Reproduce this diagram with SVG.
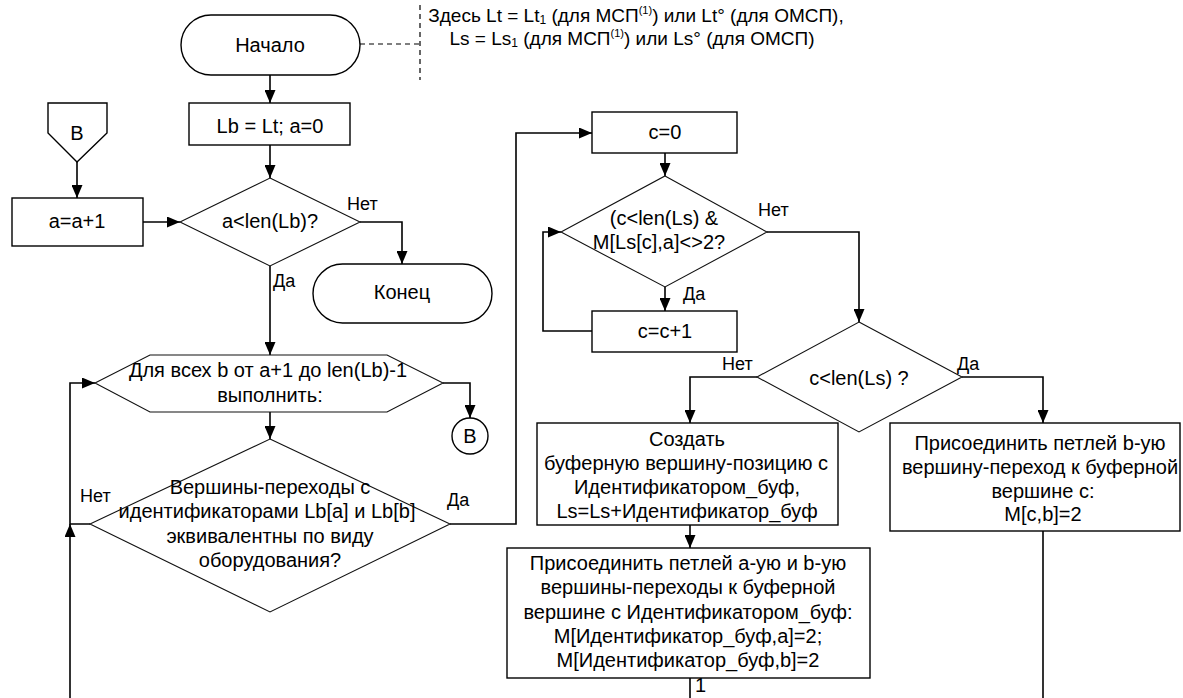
<svg xmlns="http://www.w3.org/2000/svg" width="1183" height="698" viewBox="0 0 1183 698">
  <style>
    .shape { fill: #fff; stroke: #000; stroke-width: 1.4; }
    .thin { fill: #fff; stroke: #111; stroke-width: 1.1; }
    .conn { fill: none; stroke: #000; stroke-width: 1.6; }
    .dash { fill: none; stroke: #000; stroke-width: 1.2; stroke-dasharray: 5 4; }
    text { font-family: "Liberation Sans", Arial, sans-serif; font-size: 20px; fill: #000; }
    .c { text-anchor: middle; }
    .lbl { font-size: 18px; }
    .note { font-size: 19px; }
  </style>
  <defs>
    <marker id="arr" viewBox="0 0 13 11" refX="13" refY="5.5" markerWidth="13" markerHeight="11" markerUnits="userSpaceOnUse" orient="auto">
      <path d="M0,0 L13,5.5 L0,11 z" fill="#000"/>
    </marker>
  </defs>

  <!-- connectors -->
  <g id="connectors">
    <path class="conn" d="M270,75 V103" marker-end="url(#arr)"/>
    <path class="conn" d="M270,145 V178" marker-end="url(#arr)"/>
    <path class="conn" d="M77,162 V198" marker-end="url(#arr)"/>
    <path class="conn" d="M143,222 H180" marker-end="url(#arr)"/>
    <path class="conn" d="M360,222 H402 V264" marker-end="url(#arr)"/>
    <path class="conn" d="M270,266 V355" marker-end="url(#arr)"/>
    <path class="conn" d="M443,383 H470 V418" marker-end="url(#arr)"/>
    <path class="conn" d="M270,412 V439" marker-end="url(#arr)"/>
    <path class="conn" d="M90,524 H70 V383 H95" marker-end="url(#arr)"/>
    <path class="conn" d="M70,698 V524" marker-end="url(#arr)"/>
    <path class="conn" d="M450,524 H516 V133 H592" marker-end="url(#arr)"/>
    <path class="conn" d="M665,153 V176" marker-end="url(#arr)"/>
    <path class="conn" d="M665,287 V311" marker-end="url(#arr)"/>
    <path class="conn" d="M592,331 H543 V232 H561" marker-end="url(#arr)"/>
    <path class="conn" d="M767,232 H859 V322" marker-end="url(#arr)"/>
    <path class="conn" d="M757,377 H690 V423" marker-end="url(#arr)"/>
    <path class="conn" d="M962,377 H1043 V423" marker-end="url(#arr)"/>
    <path class="conn" d="M690,525 V548" marker-end="url(#arr)"/>
    <path class="conn" d="M690,678 V698"/>
    <path class="conn" d="M1043,531 V698"/>
    <path class="dash" d="M360,44 H420"/>
    <path class="dash" d="M420,5 V80"/>
    <text class="lbl" x="347" y="210">Нет</text>
    <text class="lbl" x="273" y="287">Да</text>
    <text class="lbl" x="80" y="502">Нет</text>
    <text class="lbl" x="447" y="506">Да</text>
    <text class="lbl" x="758" y="216">Нет</text>
    <text class="lbl" x="683" y="300">Да</text>
    <text class="lbl" x="722" y="370">Нет</text>
    <text class="lbl" x="957" y="370">Да</text>
    <text x="695" y="692" font-size="7">1</text>
  </g>

  <!-- note attached to the start node -->
  <g id="note">
    <text class="c note" x="636" y="22">Здесь Lt = Lt<tspan font-size="12" dy="2">1</tspan><tspan dy="-2"> (для МСП</tspan><tspan font-size="11" dy="-8">(1)</tspan><tspan dy="8">) или Lt° (для ОМСП),</tspan></text>
    <text class="c note" x="632" y="45">Ls = Ls<tspan font-size="12" dy="2">1</tspan><tspan dy="-2"> (для МСП</tspan><tspan font-size="11" dy="-8">(1)</tspan><tspan dy="8">) или Ls° (для ОМСП)</tspan></text>
  </g>

  <g id="start">
    <rect class="shape" x="181" y="15" width="179" height="60" rx="30"/>
    <text class="c" x="270" y="52">Начало</text>
  </g>

  <g id="init">
    <rect class="shape" x="189" y="103" width="161" height="42"/>
    <text class="c" x="270" y="133">Lb = Lt; a=0</text>
  </g>

  <g id="offpage-b">
    <polygon class="shape" points="48,103 107,103 107,133 77,162 48,133"/>
    <text class="c" x="77" y="140">В</text>
  </g>

  <g id="inc-a">
    <rect class="shape" x="12" y="198" width="131" height="48"/>
    <text class="c" x="77" y="228">a=a+1</text>
  </g>

  <g id="check-a">
    <polygon class="thin" points="270,178 360,222 270,266 180,222"/>
    <text class="c" x="270" y="228">a&lt;len(Lb)?</text>
  </g>

  <g id="end">
    <rect class="shape" x="313" y="264" width="179" height="59" rx="29.5"/>
    <text class="c" x="402" y="299">Конец</text>
  </g>

  <g id="loop-b">
    <polygon class="thin" points="95,383 150,355 387,355 443,383 387,412 150,412"/>
    <text class="c" x="268" y="377">Для всех b от a+1 до len(Lb)-1</text>
    <text class="c" x="270" y="402">выполнить:</text>
  </g>

  <g id="connector-b">
    <circle class="shape" cx="470" cy="436" r="18"/>
    <text class="c" x="470" y="443">В</text>
  </g>

  <g id="check-equiv">
    <polygon class="thin" points="270,439 450,524 270,612 90,524"/>
    <text class="c" x="270" y="494">Вершины-переходы с</text>
    <text class="c" x="267" y="518">идентификаторами Lb[a] и Lb[b]</text>
    <text class="c" x="270" y="543">эквивалентны по виду</text>
    <text class="c" x="270" y="567">оборудования?</text>
  </g>

  <g id="init-c">
    <rect class="shape" x="592" y="112" width="145" height="41"/>
    <text class="c" x="665" y="139">c=0</text>
  </g>

  <g id="check-c">
    <polygon class="thin" points="665,176 767,232 665,287 561,232"/>
    <text class="c" x="664" y="225">(c&lt;len(Ls) &amp;</text>
    <text class="c" x="659" y="249">M[Ls[c],a]&lt;&gt;2?</text>
  </g>

  <g id="inc-c">
    <rect class="shape" x="592" y="311" width="145" height="41"/>
    <text class="c" x="665" y="338">c=c+1</text>
  </g>

  <g id="check-found">
    <polygon class="thin" points="859,322 962,377 859,432 757,377"/>
    <text class="c" x="859" y="385">c&lt;len(Ls) ?</text>
  </g>

  <g id="create-buffer">
    <rect class="shape" x="537" y="423" width="301" height="102"/>
    <text class="c" x="687" y="446">Создать</text>
    <text class="c" x="686" y="470">буферную вершину-позицию с</text>
    <text class="c" x="687" y="494">Идентификатором_буф,</text>
    <text class="c" x="687" y="518">Ls=Ls+Идентификатор_буф</text>
  </g>

  <g id="attach-ab">
    <rect class="shape" x="507" y="548" width="363" height="130"/>
    <text class="c" x="688" y="570">Присоединить петлей a-ую и b-ую</text>
    <text class="c" x="688" y="594">вершины-переходы к буферной</text>
    <text class="c" x="688" y="619">вершине с Идентификатором_буф:</text>
    <text class="c" x="688" y="643">M[Идентификатор_буф,a]=2;</text>
    <text class="c" x="688" y="667">M[Идентификатор_буф,b]=2</text>
  </g>

  <g id="attach-b">
    <rect class="shape" x="890" y="423" width="290" height="108"/>
    <text class="c" x="1040" y="450">Присоединить петлей b-ую</text>
    <text class="c" x="1040" y="474">вершину-переход к буферной</text>
    <text class="c" x="1043" y="498">вершине с:</text>
    <text class="c" x="1043" y="521">M[c,b]=2</text>
  </g>
</svg>
